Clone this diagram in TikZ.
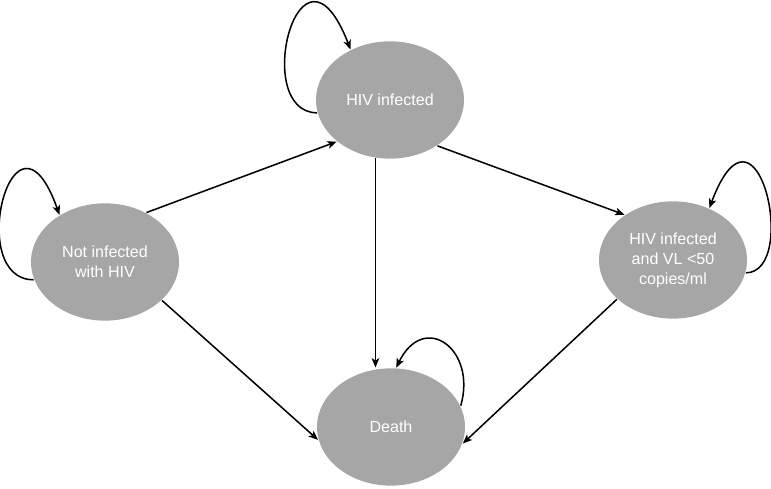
\documentclass[tikz,border=0pt]{standalone}
\usepackage{fontspec}
\setmainfont{Liberation Sans}
\usetikzlibrary{shapes.geometric,arrows.meta}
\definecolor{stategray}{RGB}{166,166,166}

\begin{document}
\begin{tikzpicture}[x=0.03cm,y=0.03cm,>={Stealth[length=8pt,width=6.5pt,inset=2pt]},line width=1.3pt,
  state/.style={ellipse,fill=stategray,text=white,inner sep=0pt,align=center,
    minimum width=4.44cm,minimum height=3.52cm,font=\fontsize{13.7}{17}\selectfont}]
\useasboundingbox (0,0) rectangle (771,489);
% Zustaende
\node[state] (hiv) at (390,389) {HIV infected};
\node[state] (notinf) at (105,227) {Not infected\\with HIV};
\node[state] (vl) at (673,229) {HIV infected\\and VL <50\\copies/ml};
\node[state] (death) at (391,62) {Death};
% Uebergaenge
\draw[->] (notinf.50) -- (hiv.218);
\draw[->] (hiv.316) -- (vl.137);
\draw[->] (hiv.256) -- (hiv.256 |- death.north);
\draw[->] (notinf.326) -- (death.190);
\draw[->] (vl.215) -- (death.347);
% Schleifen
\draw[->] (hiv.190) .. controls (250,377) and (300,570) .. (hiv.128);
\draw[->] (notinf.194) .. controls (-36,209) and (14,402) .. (notinf.134);
\draw[->] (vl.350) .. controls (800,217) and (757,408) .. (vl.55);
\draw[->] (death.17) .. controls (477,140) and (424,178) .. (death.85);
\end{tikzpicture}
\end{document}
